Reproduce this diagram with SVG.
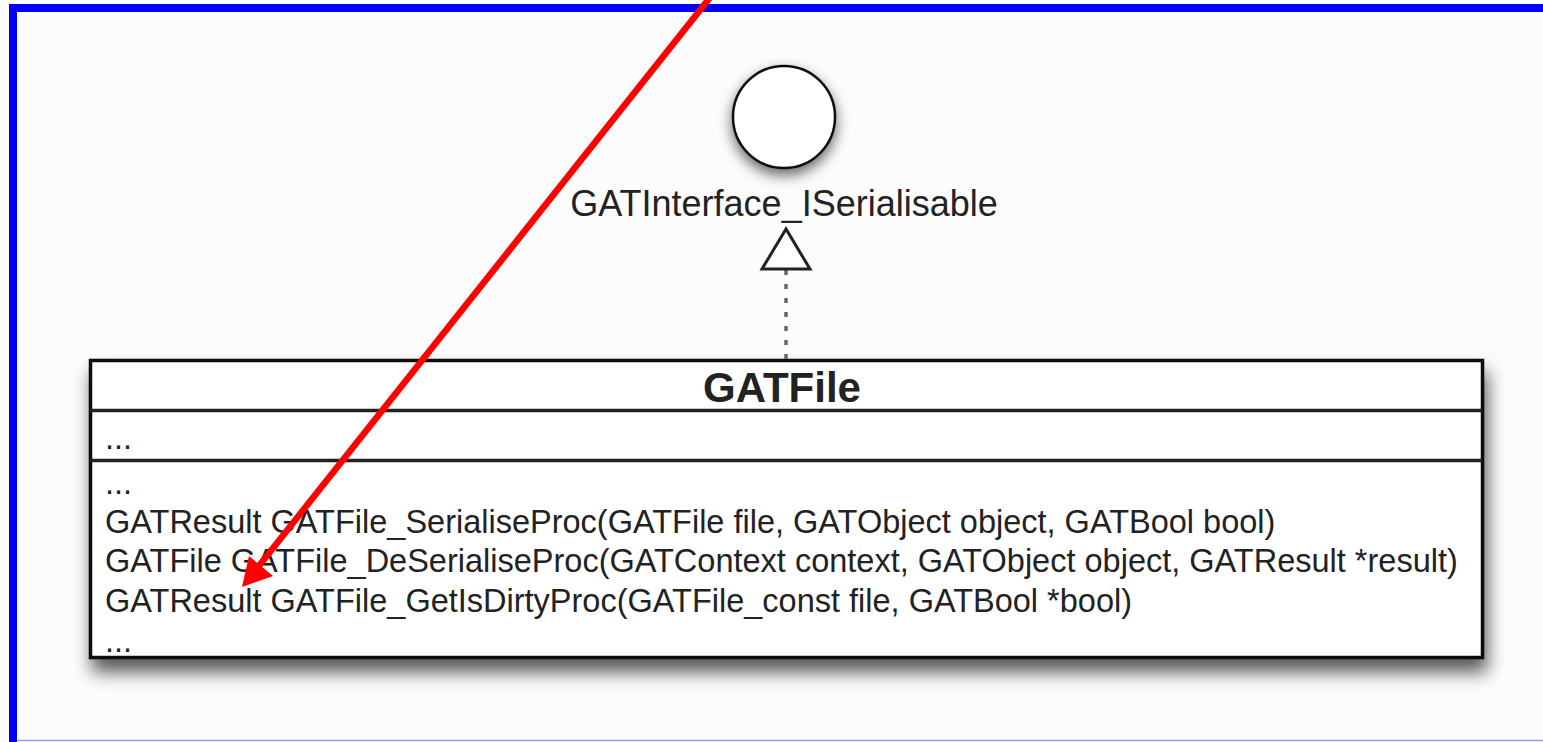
<svg xmlns="http://www.w3.org/2000/svg" width="1543" height="742" viewBox="0 0 1543 742">
<style>
.lbl{font-family:"Liberation Sans",Arial,sans-serif;fill:#222}
.m{font-size:32.5px}
</style>
<defs>
<filter id="sh" x="-10%" y="-20%" width="125%" height="160%">
<feDropShadow dx="3" dy="13" stdDeviation="9" flood-color="#000" flood-opacity="0.65"/>
</filter>
<filter id="csh" x="-40%" y="-40%" width="180%" height="190%">
<feDropShadow dx="0" dy="6" stdDeviation="7" flood-color="#000" flood-opacity="0.6"/>
</filter>
</defs>
<rect x="0" y="0" width="1543" height="742" fill="#fcfcfc"/>
<g id="frame">
<rect x="9" y="4" width="1534" height="8" fill="#0000ff"/>
<rect x="9" y="4" width="8" height="738" fill="#0000ff"/>
<line x1="17" y1="740.5" x2="1543" y2="740.5" stroke="#9a9af5" stroke-width="1.5"/>
</g>
<g id="interface">
<circle cx="784" cy="117" r="51" fill="#fff" stroke="#111" stroke-width="2.5" filter="url(#csh)"/>
<text class="lbl" x="784" y="216" font-size="36" text-anchor="middle">GATInterface_ISerialisable</text>
</g>
<g id="GATFile">
<rect x="90.5" y="360.5" width="1392" height="297" fill="#fff" stroke="#111" stroke-width="3.5" filter="url(#sh)"/>
<line x1="90" y1="410.5" x2="1482" y2="410.5" stroke="#222" stroke-width="3.5"/>
<line x1="90" y1="460.5" x2="1482" y2="460.5" stroke="#222" stroke-width="3.5"/>
<text class="lbl" x="782" y="402" font-size="42" font-weight="bold" text-anchor="middle" fill="#111">GATFile</text>
<text class="lbl m" x="105" y="449">...</text>
<text class="lbl m" x="105" y="494">...</text>
<text class="lbl m" x="105" y="533">GATResult GATFile_SerialiseProc(GATFile file, GATObject object, GATBool bool)</text>
<text class="lbl m" x="105" y="572">GATFile GATFile_DeSerialiseProc(GATContext context, GATObject object, GATResult *result)</text>
<text class="lbl m" x="105" y="612">GATResult GATFile_GetIsDirtyProc(GATFile_const file, GATBool *bool)</text>
<text class="lbl m" x="105" y="652">...</text>
</g>
<g id="connectors">
<line x1="786" y1="270" x2="786" y2="359" stroke="#666" stroke-width="3.5" stroke-dasharray="5 9"/>
<polygon points="786,229 762,269 810,269" fill="#fff" stroke="#222" stroke-width="3" stroke-linejoin="miter"/>
<line x1="712" y1="-5" x2="258" y2="567" stroke="#ff0000" stroke-width="6.5"/>
<polygon points="242,587 273,576 249,556" fill="#ff0000"/>
</g>
</svg>
